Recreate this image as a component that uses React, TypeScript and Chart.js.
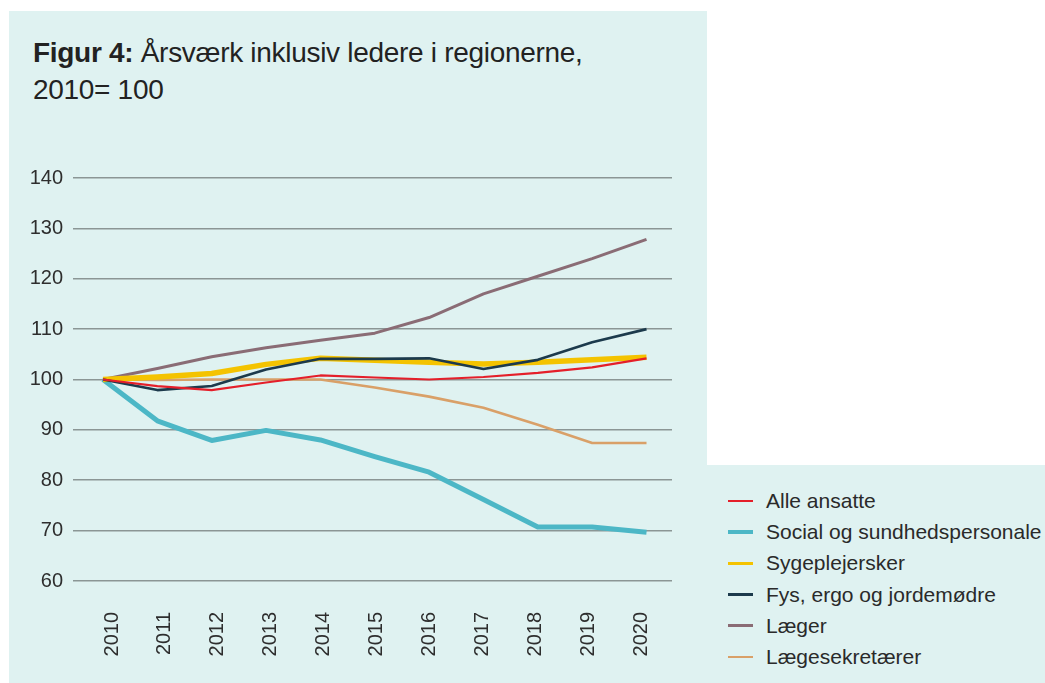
import React, { useEffect, useRef } from "react";
import { Chart, registerables } from "chart.js";

Chart.register(...registerables);

const years = ["2010", "2011", "2012", "2013", "2014", "2015", "2016", "2017", "2018", "2019", "2020"];
const yTickValues = [60, 70, 80, 90, 100, 110, 120, 130, 140];

const alleAnsatte = [100, 98.7, 97.9, 99.4, 100.8, 100.4, 100.0, 100.5, 101.3, 102.4, 104.2];
const socialSundhed = [100, 91.8, 87.9, 89.9, 88.0, 84.7, 81.6, 76.2, 70.7, 70.7, 69.7];
const sygeplejersker = [100, 100.5, 101.2, 103.0, 104.2, 103.8, 103.4, 103.1, 103.4, 103.9, 104.4];
const fysErgo = [100, 97.9, 98.7, 102.0, 104.1, 104.1, 104.2, 102.1, 103.9, 107.4, 110.0];
const laeger = [100, 102.2, 104.5, 106.3, 107.8, 109.2, 112.3, 117.0, 120.5, 124.0, 127.8];
const laegesekretaerer = [100, 99.9, 100.0, 100.0, 100.0, 98.4, 96.6, 94.4, 91.0, 87.4, 87.4];

const FONT = '"Liberation Sans", Arial, sans-serif';
const BG = "#dff2f1";
const TEXT = "#2e2e2e";

const series = [
  { label: "Alle ansatte", values: alleAnsatte, color: "#e41f2a", width: 2.2, legendWidth: 2.5, order: 0 },
  { label: "Social og sundhedspersonale", values: socialSundhed, color: "#4cb7c6", width: 5, legendWidth: 3.5, order: 5 },
  { label: "Sygeplejersker", values: sygeplejersker, color: "#f4c300", width: 5.5, legendWidth: 3.5, order: 2 },
  { label: "Fys, ergo og jordemødre", values: fysErgo, color: "#1c3a4c", width: 2.6, legendWidth: 3.5, order: 1 },
  { label: "Læger", values: laeger, color: "#8a6c75", width: 3, legendWidth: 3, order: 3 },
  { label: "Lægesekretærer", values: laegesekretaerer, color: "#d9a068", width: 2.6, legendWidth: 2.5, order: 4 },
];

export default function App() {
  const ref = useRef<HTMLCanvasElement | null>(null);

  useEffect(() => {
    if (!ref.current) return;
    const chart = new Chart(ref.current, {
      type: "line",
      data: {
        datasets: series.map((s) => ({
          label: s.label,
          data: s.values.map((v, i) => ({ x: i, y: v })),
          borderColor: s.color,
          backgroundColor: s.color,
          borderWidth: s.width,
          pointRadius: 0,
          pointHoverRadius: 0,
          tension: 0,
          fill: false,
          order: s.order,
          borderJoinStyle: "round",
          xAxisID: "x",
          yAxisID: "y",
        })),
      },
      options: {
        responsive: false,
        animation: false,
        events: [],
        layout: { padding: { top: 58, right: 35, left: 0, bottom: 0 } },
        plugins: {
          legend: { display: false },
          tooltip: { enabled: false },
          title: { display: false },
        },
        scales: {
          x: {
            type: "linear",
            display: false,
            min: -0.552,
            max: 10.469,
          },
          xl: {
            type: "linear",
            position: "bottom",
            min: -0.737,
            max: 10.586,
            grid: { display: false, drawTicks: false },
            border: { display: false },
            ticks: {
              autoSkip: false,
              minRotation: 90,
              maxRotation: 90,
              padding: 31,
              color: TEXT,
              font: { family: FONT, size: 20 },
              callback: (v: any) => years[Math.round(Number(v))] ?? "",
            },
            afterBuildTicks: (axis: any) => {
              axis.ticks = years.map((_, i) => ({ value: i }));
            },
            afterFit: (axis: any) => {
              axis.height = 102;
            },
          },
          y: {
            type: "linear",
            min: 60,
            max: 140,
            grid: { color: "#8b9695", lineWidth: 1.6, drawTicks: false },
            border: { display: false },
            ticks: {
              padding: 10,
              color: TEXT,
              font: { family: FONT, size: 20 },
              callback: (v: any) => String(v),
            },
            afterBuildTicks: (axis: any) => {
              axis.ticks = yTickValues.map((v) => ({ value: v }));
            },
            afterFit: (axis: any) => {
              axis.width = 64;
            },
          },
        } as any,
      },
    });
    return () => chart.destroy();
  }, []);

  return (
    <div
      style={{
        position: "fixed",
        left: 0,
        top: 0,
        width: 1045,
        height: 683,
        background: "#ffffff",
        overflow: "hidden",
        fontFamily: FONT,
      }}
    >
      <div style={{ position: "absolute", left: 9, top: 11, width: 698, height: 672, background: BG }} />
      <div style={{ position: "absolute", left: 707, top: 465, width: 338, height: 218, background: BG }} />
      <div
        style={{
          position: "absolute",
          left: 33,
          top: 34,
          fontSize: 28,
          lineHeight: "37px",
          letterSpacing: "-0.3px",
          color: "#222222",
          whiteSpace: "nowrap",
        }}
      >
        <b>Figur 4:</b> Årsværk inklusiv ledere i regionerne,
        <br />
        2010= 100
      </div>
      <canvas
        ref={ref}
        width={698}
        height={563}
        style={{ position: "absolute", left: 9, top: 120, width: 698, height: 563 }}
      />
      <div style={{ position: "absolute", left: 728, top: 485.4 }}>
        {series.map((s) => (
          <div key={s.label} style={{ display: "flex", alignItems: "center", height: 31.2 }}>
            <div style={{ width: 25, height: s.legendWidth, background: s.color }} />
            <div style={{ marginLeft: 13, fontSize: 21, color: "#2a2a2a", whiteSpace: "nowrap" }}>{s.label}</div>
          </div>
        ))}
      </div>
    </div>
  );
}
